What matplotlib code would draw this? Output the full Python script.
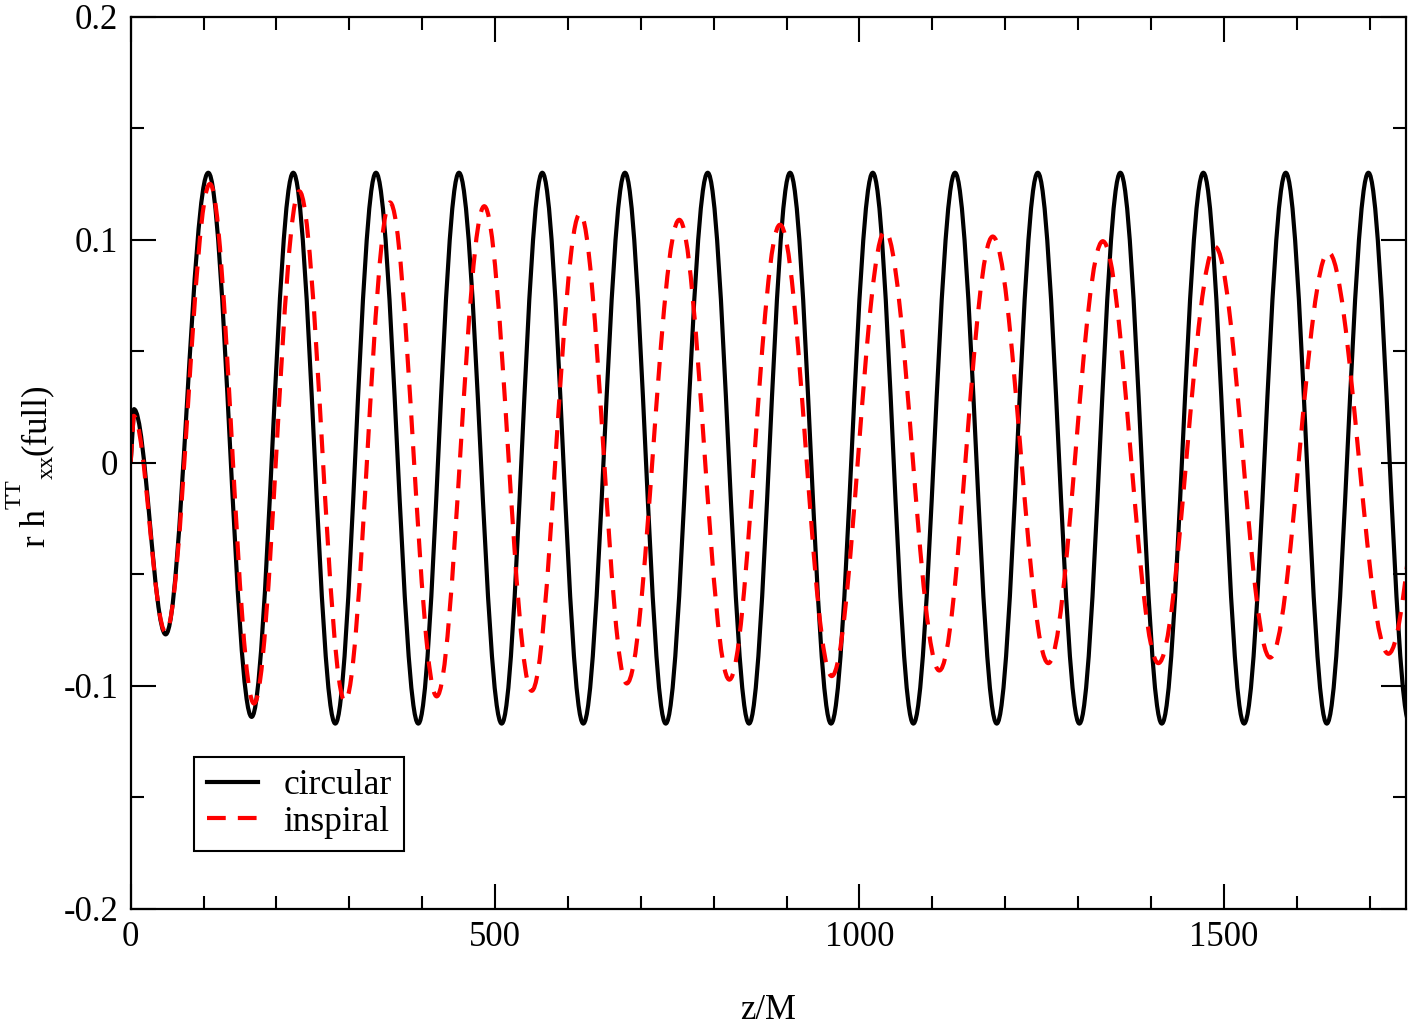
import matplotlib
matplotlib.use('Agg')
import matplotlib.pyplot as plt
from matplotlib.path import Path
from matplotlib.patches import PathPatch
from matplotlib.ticker import MultipleLocator, FuncFormatter
from matplotlib.transforms import IdentityTransform

plt.rcParams['font.family'] = ['Liberation Serif', 'DejaVu Serif']

# Turning points (start point, then alternating extrema)
circular_x = [0, 4.5, 48.0, 106.5, 166.0, 223.1, 280.8, 336.6, 394.7, 450.5, 509.1,
              564.8, 621.1, 678.3, 734.2, 791.8, 848.5, 904.8, 961.0, 1018.3, 1074.0,
              1131.2, 1188.4, 1244.7, 1301.8, 1358.0, 1414.9, 1471.9, 1527.8, 1585.0,
              1641.3, 1698.4, 1755.0]
circular_y = [0.0, 0.024, -0.077, 0.130, -0.114, 0.130, -0.117, 0.130, -0.117, 0.130, -0.117,
              0.130, -0.117, 0.130, -0.117, 0.130, -0.117, 0.130, -0.117, 0.130, -0.117,
              0.130, -0.117, 0.130, -0.117, 0.130, -0.117, 0.130, -0.117, 0.130,
              -0.117, 0.130, -0.117]

inspiral_x = [0, 4.0, 48.0, 108.8, 169.2, 231.4, 294.1, 355.8, 419.9, 485.2, 550.3,
              616.6, 680.7, 752.8, 821.5, 891.0, 962.0, 1035.1, 1109.6, 1182.9, 1259.2,
              1333.9, 1410.2, 1488.0, 1563.5, 1643.5, 1725.8, 1808.0]
inspiral_y = [0.0, 0.021, -0.076, 0.125, -0.108, 0.1217, -0.107, 0.1167, -0.1048, 0.115, -0.1023,
              0.1117, -0.099, 0.1089, -0.0973, 0.1067, -0.0957, 0.1038, -0.0932, 0.1014, -0.0899,
              0.0993, -0.0899, 0.0968, -0.0874, 0.0943, -0.0857, 0.092]

x_ticks = [0, 500, 1000, 1500]
y_ticks = [-0.2, -0.1, 0.0, 0.1, 0.2]

# y label pieces: text, font size, baseline shift (px, negative = raised)
ylabel_parts = [('r h', 25, 0), ('TT', 17.5, -24), ('xx', 17.5, 8), ('(full)', 25, 0)]


def wave_path(xs, ys, k=0.3634):
    # straight rise to first extremum, then cubic half-waves between extrema
    verts = [(xs[0], ys[0]), (xs[1], ys[1])]
    codes = [Path.MOVETO, Path.LINETO]
    for i in range(2, len(xs)):
        d = xs[i] - xs[i - 1]
        verts += [(xs[i - 1] + k * d, ys[i - 1]), (xs[i] - k * d, ys[i]), (xs[i], ys[i])]
        codes += [Path.CURVE4] * 3
    return Path(verts, codes)


fig = plt.figure(figsize=(14.08, 10.27), dpi=100)
ax = fig.add_axes([0.0928, 0.1152, 0.9058, 0.8686])

lw = 3.0
dash = (0, (4.5, 2.9))
ax.add_patch(PathPatch(wave_path(circular_x, circular_y), fill=False, edgecolor='black',
                       linewidth=lw, joinstyle='round', capstyle='butt'))
ax.add_patch(PathPatch(wave_path(inspiral_x, inspiral_y), fill=False, edgecolor='#ff0000',
                       linewidth=lw, linestyle=dash, joinstyle='round', capstyle='butt'))
ax.plot([], [], color='black', lw=lw, label='circular')
ax.plot([], [], color='#ff0000', lw=lw, ls=dash, label='inspiral')

ax.set_xlim(0, 1750)
ax.set_ylim(-0.2, 0.2)
ax.set_xticks(x_ticks)
ax.set_yticks(y_ticks)
ax.xaxis.set_minor_locator(MultipleLocator(100))
ax.yaxis.set_minor_locator(MultipleLocator(0.05))
ax.yaxis.set_major_formatter(FuncFormatter(lambda v, p: '0' if abs(v) < 1e-9 else f'{v:.1f}'))

ax.tick_params(which='both', direction='in', top=True, right=True, width=1.5, labelsize=25)
ax.tick_params(which='major', length=18)
ax.tick_params(which='minor', length=9.5)
ax.tick_params(axis='x', pad=9)
ax.tick_params(axis='y', pad=9)
for s in ax.spines.values():
    s.set_linewidth(1.6)

ax.set_xlabel('z/M', fontsize=25, labelpad=29)

# rotated y label built piece by piece (Grace-style raised superscript)
renderer = fig.canvas.get_renderer()
base_x, pos_y = 45, 1027 - 547
for txt, fs, shift in ylabel_parts:
    t = fig.text(base_x + shift, pos_y, txt, fontsize=fs, rotation=90, rotation_mode='anchor',
                 ha='left', va='baseline', transform=IdentityTransform())
    pos_y += t.get_window_extent(renderer).height

leg = ax.legend(loc='lower left', bbox_to_anchor=(0.0499, 0.0647), borderaxespad=0,
                fontsize=25.5, handlelength=1.44, handletextpad=0.73, labelspacing=0.1,
                borderpad=0.35, fancybox=False, framealpha=1, edgecolor='black')
leg.get_frame().set_linewidth(1.5)

fig.savefig('out.png', dpi=100)
